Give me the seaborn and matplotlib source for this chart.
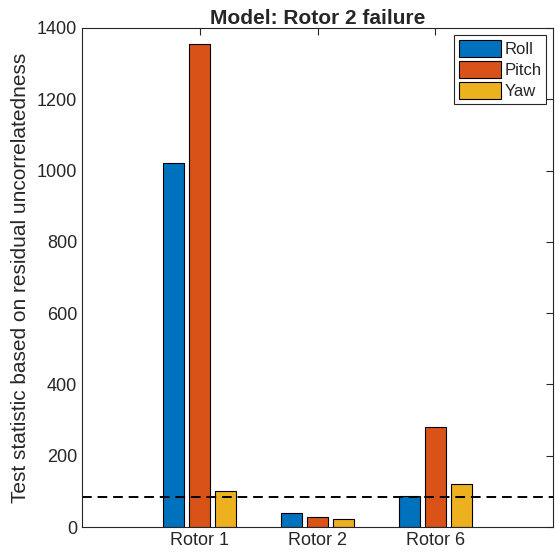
import pandas as pd
import matplotlib
matplotlib.use('Agg')
import matplotlib.pyplot as plt
import seaborn as sns

# Data
rotors = ['Rotor 1', 'Rotor 2', 'Rotor 6']
roll = [1020, 39, 86]
pitch = [1355, 29, 281]
yaw = [101, 23, 122]
threshold = 85
series_names = ['Roll', 'Pitch', 'Yaw']
colors = ['#0072BD', '#D95319', '#EDB120']

df = pd.DataFrame({
    'rotor': rotors * 3,
    'axis': ['Roll'] * 3 + ['Pitch'] * 3 + ['Yaw'] * 3,
    'value': roll + pitch + yaw,
})

sns.set_style('white')
plt.rcParams['font.family'] = ['Liberation Sans', 'DejaVu Sans']

fig = plt.figure(figsize=(5.55, 5.6), dpi=100)
ax = fig.add_axes([82 / 555, 33 / 560, 471 / 555, 499 / 560])

sns.barplot(data=df, x='rotor', y='value', hue='axis', order=rotors,
            hue_order=series_names, palette=colors, saturation=1,
            width=0.66, gap=0.18, edgecolor='black', linewidth=0.8,
            errorbar=None, ax=ax)

# Threshold line
ax.axhline(threshold, color='black', linestyle=(0, (5, 3)), linewidth=1.4)

ax.set_xlim(-1, 3)
ax.set_ylim(0, 1400)
ax.set_yticks(range(0, 1401, 200))
ax.set_xlabel('')
ax.set_ylabel('Test statistic based on residual uncorrelatedness', fontsize=15,
              labelpad=5)
ax.set_title('Model: Rotor 2 failure', fontsize=15, fontweight='bold', pad=3)

ax.tick_params(axis='both', which='both', direction='in', length=5,
               width=0.8, color='#262626', labelsize=13,
               top=True, right=True, labelcolor='#262626')
for s in ax.spines.values():
    s.set_color('#262626')
    s.set_linewidth(0.8)

leg = ax.legend(loc='upper right', fontsize=12, handlelength=2.5,
                handleheight=1.25, fancybox=False, framealpha=1,
                borderaxespad=0.4, handletextpad=0.2, labelspacing=0.2,
                borderpad=0.3)
leg.get_frame().set_edgecolor('#262626')
leg.get_frame().set_linewidth(0.8)

fig.savefig('out.png', dpi=100)
